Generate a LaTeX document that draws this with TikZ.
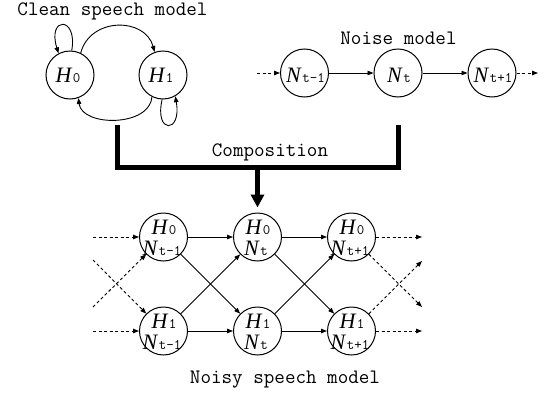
\documentclass[tikz,border=0pt]{standalone}
\usepackage{fontspec}
\newfontfamily\hnfont{Liberation Serif}
\usetikzlibrary{arrows.meta}
\newcommand{\HN}[2]{{\hnfont\itshape\fontsize{22}{22}\selectfont #1}\kern1.5pt{\ttfamily\fontsize{14.5}{14.5}\selectfont #2}}
\begin{document}
\begin{tikzpicture}[x=1pt, y=-1pt, font=\ttfamily\fontsize{20.5}{20.5}\selectfont,
  st/.style={circle, draw, line width=1pt, minimum size=48pt, inner sep=0pt},
  lbl/.style={anchor=base, inner sep=0pt},
  arr/.style={line width=0.9pt, -{Triangle[length=6pt,width=4.5pt]}},
  darr/.style={arr, dash pattern=on 3pt off 2.5pt},
  bar/.style={line width=5pt, line join=miter},
  bigarr/.style={line width=5pt, -{Triangle[length=13pt,width=13pt]}}]
\useasboundingbox (0,0) rectangle (555,394);
% titles
\node[lbl] (tclean) at (112.5,15) {Clean speech model};
\node[lbl] (tnoise) at (398.5,44) {Noise model};
\node[lbl] (tcomp) at (270,156) {Composition};
\node[lbl] (tnoisy) at (285,383) {Noisy speech model};
% clean speech model
\node[st] (h0) at (70,75) {};
\node[st] (h1) at (163,75) {};
\node[lbl] (h0t) at (68,82) {\HN{H}{0}};
\node[lbl] (h1t) at (161,82) {\HN{H}{1}};
\draw[arr] (h0.64) .. controls (90,17) and (145,17) .. (h1.110);
\draw[arr] (h1.243) .. controls (150,127) and (82,127) .. (h0.290);
\draw[arr] (h0.86) .. controls (78,16) and (47,16) .. (h0.118);
\draw[arr] (h1.268) .. controls (154,134) and (182,134) .. (h1.300);
% noise model
\node[st] (n1) at (304.5,73) {};
\node[st] (n2) at (398,73) {};
\node[st] (n3) at (492,73) {};
\node[lbl] (n1t) at (305.5,82) {\HN{N}{t-1}};
\node[lbl] (n2t) at (399,82) {\HN{N}{t}};
\node[lbl] (n3t) at (493,82) {\HN{N}{t+1}};
\coordinate (nin) at (257,73);
\coordinate (nout) at (538,73);
\draw[darr] (nin) -- (n1);
\draw[arr] (n1) -- (n2);
\draw[arr] (n2) -- (n3);
\draw[darr] (n3) -- (nout);
% composition
\coordinate (cl) at (117.5,125);
\coordinate (cr) at (398.5,125);
\coordinate (cbl) at (117.5,167.5);
\coordinate (cbr) at (398.5,167.5);
\coordinate (cm) at (257.5,167.5);
\draw[bar] (cl) -- (cbl) -- (cbr) -- (cr);
% lattice
\foreach \c/\x/\s in {1/163.5/t-1, 2/257.5/t, 3/351.5/t+1}{
  \node[st] (a\c) at (\x,237) {};
  \node[st] (b\c) at (\x,331) {};
  \node[lbl] (a\c h) at (\x+0.5,234) {\HN{H}{0}};
  \node[lbl] (a\c n) at (\x-1.5,255) {\HN{N}{\s}};
  \node[lbl] (b\c h) at (\x+0.5,328) {\HN{H}{1}};
  \node[lbl] (b\c n) at (\x-1.5,349) {\HN{N}{\s}};
}
\draw[bigarr, shorten >=5pt] (cm) -- (a2);
\coordinate (ia) at (93,237);
\coordinate (ib) at (93,331);
\coordinate (ic) at (93,260);
\coordinate (id) at (93,307);
\coordinate (oa) at (422,237);
\coordinate (ob) at (422,331);
\coordinate (oc) at (422,307);
\coordinate (od) at (422,261);
\draw[darr] (ia) -- (a1);
\draw[darr] (ib) -- (b1);
\draw[darr] (ic) -- (b1);
\draw[darr] (id) -- (a1);
\draw[arr] (a1) -- (a2);
\draw[arr] (a2) -- (a3);
\draw[arr] (b1) -- (b2);
\draw[arr] (b2) -- (b3);
\draw[arr] (a1) -- (b2);
\draw[arr] (b1) -- (a2);
\draw[arr] (a2) -- (b3);
\draw[arr] (b2) -- (a3);
\draw[darr] (a3) -- (oa);
\draw[darr] (b3) -- (ob);
\draw[darr] (a3) -- (oc);
\draw[darr] (b3) -- (od);
\end{tikzpicture}
\end{document}
